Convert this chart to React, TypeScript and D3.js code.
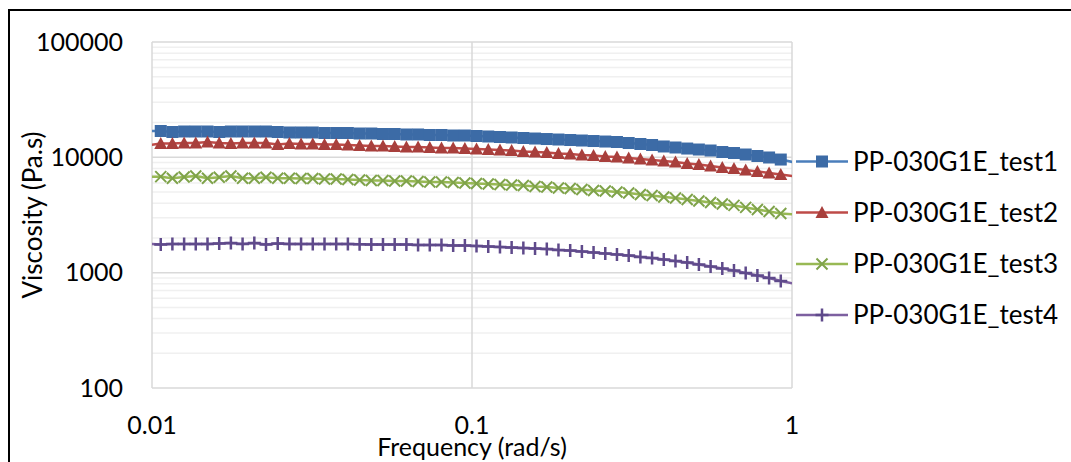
import React from "react";
import * as d3 from "d3";

// Frequencies (rad/s); first and last lie just outside the axis range
const frequency: number[] = [
  0.0099,
  0.01065, 0.01158, 0.0126, 0.0137, 0.01491, 0.01622, 0.01764, 0.01919, 0.02088, 0.02271,
  0.02471, 0.02688, 0.02923, 0.0318, 0.0346, 0.03764, 0.04094, 0.04454, 0.04845, 0.0527,
  0.05733, 0.06237, 0.06784, 0.0738, 0.08028, 0.08733, 0.09501, 0.1033, 0.1124, 0.1223,
  0.133, 0.1447, 0.1574, 0.1713, 0.1863, 0.2027, 0.2205, 0.2398, 0.2609, 0.2838,
  0.3088, 0.3359, 0.3654, 0.3975, 0.4324, 0.4704, 0.5117, 0.5567, 0.6056, 0.6587,
  0.7166, 0.7796, 0.848, 0.9224,
  1.005,
];

const test1: number[] = [
  16920,
  16920, 16580, 16750, 16750, 16750, 16580, 16750, 16750, 16750, 16750,
  16580, 16420, 16420, 16420, 16250, 16250, 16250, 16090, 16090, 15930,
  15930, 15780, 15780, 15620, 15620, 15460, 15460, 15310, 15160, 15010,
  14860, 14710, 14560, 14410, 14270, 14130, 13990, 13850, 13710, 13580,
  13310, 13050, 12790, 12420, 12170, 11920, 11690, 11460, 11120, 10900,
  10580, 10270, 9970, 9570,
  9110,
];

const test2: number[] = [
  12790,
  13180, 13180, 13310, 13310, 13580, 13310, 13180, 13310, 13310, 13310,
  12920, 13180, 13050, 13050, 12920, 12920, 12790, 12660, 12540, 12540,
  12420, 12290, 12290, 12170, 12040, 12040, 11920, 11810, 11690, 11570,
  11460, 11230, 11120, 11010, 10800, 10690, 10470, 10370, 10170, 10070,
  9870, 9670, 9480, 9290, 9110, 8840, 8670, 8420, 8170, 8010,
  7770, 7540, 7320, 7100,
  6890,
];

const test3: number[] = [
  6800,
  6800, 6580, 6750, 6890, 6580, 6710, 6890, 6580, 6580, 6710,
  6580, 6580, 6550, 6550, 6490, 6490, 6430, 6360, 6300, 6300,
  6240, 6240, 6170, 6110, 6110, 6050, 5990, 5930, 5870, 5810,
  5760, 5700, 5590, 5530, 5420, 5370, 5260, 5160, 5100, 5000,
  4900, 4760, 4670, 4530, 4440, 4310, 4180, 4060, 3940, 3830,
  3680, 3530, 3390, 3260,
  3210,
];

const test4: number[] = [
  1772,
  1755, 1772, 1772, 1772, 1772, 1790, 1810, 1772, 1810, 1755,
  1790, 1772, 1772, 1772, 1772, 1772, 1772, 1762, 1755, 1755,
  1755, 1755, 1737, 1737, 1737, 1720, 1720, 1703, 1686, 1669,
  1652, 1636, 1620, 1604, 1572, 1556, 1526, 1496, 1466, 1437,
  1409, 1368, 1340, 1301, 1262, 1225, 1177, 1131, 1087, 1045,
  994, 945, 899, 846,
  806,
];

const seriesNames: string[] = [
  "PP-030G1E_test1",
  "PP-030G1E_test2",
  "PP-030G1E_test3",
  "PP-030G1E_test4",
];

const xTicks: number[] = [0.01, 0.1, 1];
const xTickLabels: string[] = ["0.01", "0.1", "1"];
const yTicks: number[] = [100, 1000, 10000, 100000];
const yTickLabels: string[] = ["100", "1000", "10000", "100000"];

const xTitle = "Frequency (rad/s)";
const yTitle = "Viscosity (Pa.s)";

type Shape = "square" | "triangle" | "x" | "plus";

const styles: { line: string; marker: string; shape: Shape }[] = [
  { line: "#4A7EBB", marker: "#3C6BA6", shape: "square" },
  { line: "#BE4B48", marker: "#A83F3C", shape: "triangle" },
  { line: "#98B954", marker: "#7FA34A", shape: "x" },
  { line: "#7D60A0", marker: "#5F4A8B", shape: "plus" },
];

const FONT = "Lato, 'Open Sans', sans-serif";

function Marker({ shape, color, cx, cy }: { shape: Shape; color: string; cx: number; cy: number }) {
  if (shape === "square") {
    return <rect x={cx - 6} y={cy - 6} width={12} height={12} fill={color} />;
  }
  if (shape === "triangle") {
    return <path d={`M${cx},${cy - 6.5}L${cx + 6.5},${cy + 5.5}L${cx - 6.5},${cy + 5.5}Z`} fill={color} />;
  }
  if (shape === "x") {
    return (
      <path
        d={`M${cx - 5.5},${cy - 5.5}L${cx + 5.5},${cy + 5.5}M${cx - 5.5},${cy + 5.5}L${cx + 5.5},${cy - 5.5}`}
        stroke={color}
        strokeWidth={2}
        fill="none"
      />
    );
  }
  return (
    <path
      d={`M${cx - 6.5},${cy}L${cx + 6.5},${cy}M${cx},${cy - 6.5}L${cx},${cy + 6.5}`}
      stroke={color}
      strokeWidth={2.5}
      fill="none"
    />
  );
}

export default function App() {
  const W = 1071;
  const H = 462;
  const left = 152, right = 792, top = 42, bottom = 388;

  const x = d3.scaleLog().domain([0.01, 1]).range([left, right]);
  const y = d3.scaleLog().domain([100, 100000]).range([bottom, top]);

  const allSeries = [test1, test2, test3, test4];

  // minor gridlines 2..9 per decade
  const minorY: number[] = [];
  for (let d = 100; d < 100000; d *= 10) {
    for (let m = 2; m <= 9; m++) minorY.push(d * m);
  }

  const line = d3
    .line<[number, number]>()
    .x((d) => x(d[0]))
    .y((d) => y(d[1]));

  const legendY = [161.5, 212.5, 264, 315];

  return (
    <svg
      width={W}
      height={H}
      style={{ position: "absolute", left: 0, top: 0, background: "#fff" }}
      fontFamily={FONT}
    >
      <defs>
        <clipPath id="plotClip">
          <rect x={left} y={top} width={right - left} height={bottom - top} />
        </clipPath>
      </defs>
      <rect x={0} y={0} width={W} height={H} fill="#fff" />
      {/* chart frame */}
      <rect x={9} y={10} width={W + 20} height={H + 20} fill="none" stroke="#000" strokeWidth={2} />

      {/* minor gridlines */}
      {minorY.map((v, i) => (
        <line key={"m" + i} x1={left} x2={right} y1={y(v)} y2={y(v)} stroke="#F0F0F0" strokeWidth={1.5} />
      ))}
      {/* major gridlines */}
      {yTicks.map((v, i) => (
        <line key={"gy" + i} x1={left} x2={right} y1={y(v)} y2={y(v)} stroke="#D9D9D9" strokeWidth={1.5} />
      ))}
      {xTicks.map((v, i) => (
        <line key={"gx" + i} x1={x(v)} x2={x(v)} y1={top} y2={bottom} stroke="#D9D9D9" strokeWidth={1.5} />
      ))}

      {/* series */}
      {allSeries.map((vals, si) => {
        const pts: [number, number][] = frequency.map((f, i) => [f, vals[i]]);
        return (
          <g key={"s" + si}>
            <path
              d={line(pts) || ""}
              fill="none"
              stroke={styles[si].line}
              strokeWidth={2.5}
              clipPath="url(#plotClip)"
            />
            {pts
              .filter((p) => p[0] >= 0.01 && p[0] <= 1)
              .map((p, i) => (
                <Marker key={i} shape={styles[si].shape} color={styles[si].marker} cx={x(p[0])} cy={y(p[1])} />
              ))}
          </g>
        );
      })}

      {/* y tick labels */}
      {yTicks.map((v, i) => (
        <text key={"yt" + i} x={123} y={y(v)} dy="0.35em" textAnchor="end" fontSize={25} fill="#000">
          {yTickLabels[i]}
        </text>
      ))}
      {/* x tick labels */}
      {xTicks.map((v, i) => (
        <text key={"xt" + i} x={x(v)} y={434} textAnchor="middle" fontSize={25} fill="#000">
          {xTickLabels[i]}
        </text>
      ))}

      {/* axis titles */}
      <text x={(left + right) / 2} y={456} textAnchor="middle" fontSize={25} fill="#000">
        {xTitle}
      </text>
      <text transform={`translate(42,${(top + bottom) / 2}) rotate(-90)`} textAnchor="middle" fontSize={26} fill="#000">
        {yTitle}
      </text>

      {/* legend */}
      {seriesNames.map((name, i) => (
        <g key={"lg" + i}>
          <line x1={796} x2={848} y1={legendY[i]} y2={legendY[i]} stroke={styles[i].line} strokeWidth={2.5} />
          <Marker shape={styles[i].shape} color={styles[i].marker} cx={822} cy={legendY[i]} />
          <text x={853} y={legendY[i]} dy="0.35em" fontSize={26} fill="#000">
            {name}
          </text>
        </g>
      ))}
    </svg>
  );
}
